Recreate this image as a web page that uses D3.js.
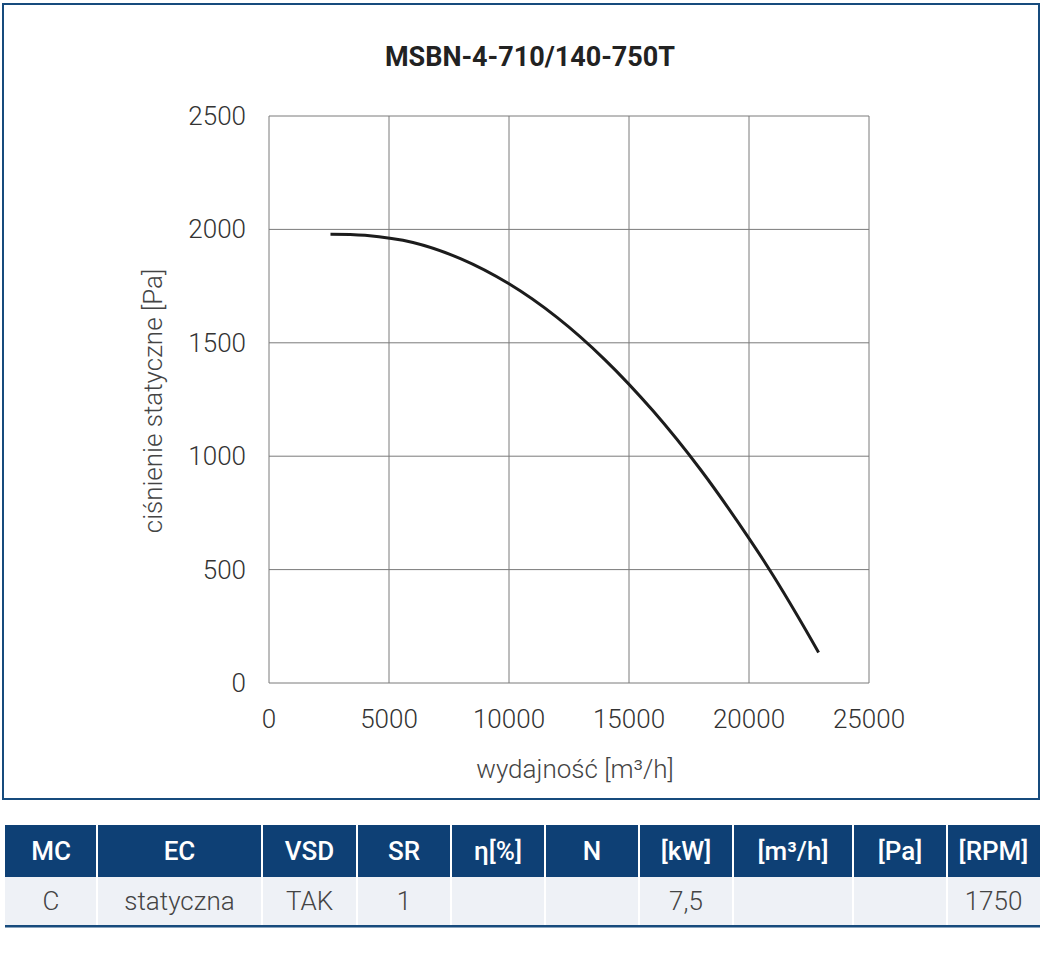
<!DOCTYPE html>
<html>
<head>
<meta charset="utf-8">
<script src="https://cdn.jsdelivr.net/npm/d3@7"></script>
<style>
  body { margin: 0; background: #fff; }
  svg text { font-family: Roboto, "DejaVu Sans", sans-serif; }
</style>
</head>
<body>
<div id="chart"></div>
<script>
// curve
var flow = [2562, 4000, 6000, 8000, 10000, 12000, 14000, 16000, 18000, 20000, 21000, 22000, 22900];
var pressure = [1979, 1974, 1942, 1870, 1760, 1612, 1425, 1200, 938, 638, 475, 300, 135];
var xTicks = [0, 5000, 10000, 15000, 20000, 25000];
var yTicks = [0, 500, 1000, 1500, 2000, 2500];
var headers = ["MC", "EC", "VSD", "SR", "η[%]", "N", "[kW]", "[m³/h]", "[Pa]", "[RPM]"];
var rowValues = ["C", "statyczna", "TAK", "1", "", "", "7,5", "", "", "1750"];
var colEdges = [5, 97, 262, 357, 451, 545, 639, 733, 853, 947, 1040];

var width = 1043, height = 957;
var svg = d3.select("#chart").append("svg")
    .attr("width", width)
    .attr("height", height);

// frame
svg.append("rect")
    .attr("x", 3).attr("y", 4)
    .attr("width", 1036).attr("height", 795)
    .attr("fill", "none")
    .attr("stroke", "#174b7d")
    .attr("stroke-width", 2);

svg.append("text")
    .text("MSBN-4-710/140-750T")
    .attr("x", 530).attr("y", 66)
    .attr("text-anchor", "middle")
    .style("font-size", "27px")
    .style("font-weight", "bold")
    .style("fill", "#222");

var x = d3.scaleLinear().domain([0, 25000]).range([269, 869]);
var y = d3.scaleLinear().domain([0, 2500]).range([683, 116]);

var grid = svg.append("g").attr("stroke", "#7a7a7a").attr("stroke-width", 1);
grid.selectAll(".vx").data(xTicks).enter().append("line")
    .attr("x1", d => x(d)).attr("x2", d => x(d))
    .attr("y1", y(0)).attr("y2", y(2500));
grid.selectAll(".hy").data(yTicks).enter().append("line")
    .attr("y1", d => y(d)).attr("y2", d => y(d))
    .attr("x1", x(0)).attr("x2", x(25000));

svg.selectAll(".xt").data(xTicks).enter().append("text")
    .text(d => d)
    .attr("x", d => x(d)).attr("y", 728)
    .attr("text-anchor", "middle")
    .style("font-size", "26px")
    .style("font-weight", 300)
    .style("fill", "#333");

svg.selectAll(".yt").data(yTicks).enter().append("text")
    .text(d => d)
    .attr("x", 246).attr("y", d => y(d) + 9)
    .attr("text-anchor", "end")
    .style("font-size", "26px")
    .style("font-weight", 300)
    .style("fill", "#333");

svg.append("text")
    .text("wydajność [m³/h]")
    .attr("x", 575).attr("y", 778)
    .attr("text-anchor", "middle")
    .style("font-size", "26px")
    .style("font-weight", 300)
    .style("fill", "#444");

svg.append("text")
    .text("ciśnienie statyczne [Pa]")
    .attr("text-anchor", "middle")
    .attr("transform", "translate(162,401) rotate(-90)")
    .style("font-size", "26px")
    .style("font-weight", 300)
    .style("fill", "#444");

var line = d3.line()
    .x((d, i) => x(flow[i]))
    .y(d => y(d))
    .curve(d3.curveCatmullRom.alpha(0.5));

svg.append("path")
    .attr("d", line(pressure))
    .attr("fill", "none")
    .attr("stroke", "#1c1c1c")
    .attr("stroke-width", 3);

// table
var tbl = svg.append("g");
tbl.append("rect")
    .attr("x", 5).attr("y", 825)
    .attr("width", 1035).attr("height", 52)
    .attr("fill", "#0e4075");
tbl.append("rect")
    .attr("x", 5).attr("y", 877)
    .attr("width", 1035).attr("height", 48)
    .attr("fill", "#eef1f6");
tbl.append("rect")
    .attr("x", 5).attr("y", 925)
    .attr("width", 1035).attr("height", 2.5)
    .attr("fill", "#174b7d");

tbl.selectAll(".sep").data(colEdges.slice(1, -1)).enter().append("line")
    .attr("x1", d => d).attr("x2", d => d)
    .attr("y1", 825).attr("y2", 925)
    .attr("stroke", "#fff")
    .attr("stroke-width", 2);

tbl.selectAll(".hd").data(headers).enter().append("text")
    .text(d => d)
    .attr("x", (d, i) => (colEdges[i] + colEdges[i + 1]) / 2)
    .attr("y", 860)
    .attr("text-anchor", "middle")
    .style("font-size", "26px")
    .style("font-weight", 500)
    .style("fill", "#fff");

tbl.selectAll(".cell").data(rowValues).enter().append("text")
    .text(d => d)
    .attr("x", (d, i) => (colEdges[i] + colEdges[i + 1]) / 2)
    .attr("y", 910)
    .attr("text-anchor", "middle")
    .style("font-size", "26px")
    .style("font-weight", 300)
    .style("fill", "#444");
</script>
</body>
</html>
